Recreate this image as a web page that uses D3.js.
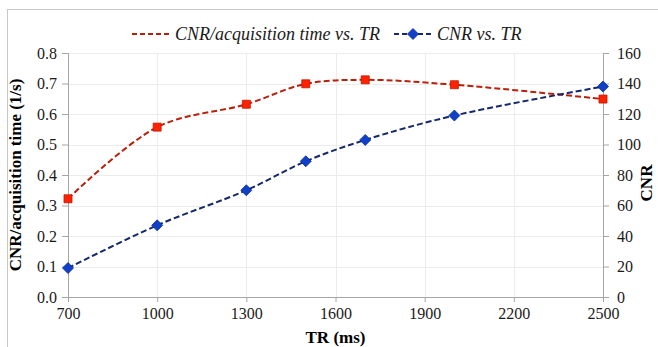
<!DOCTYPE html>
<html>
<head>
<meta charset="utf-8">
<script src="https://cdn.jsdelivr.net/npm/d3@7"></script>
<style>
  body { margin: 0; background: #fff; }
  svg, svg text { font-family: 'Liberation Serif', 'Times New Roman', Times, 'DejaVu Serif', serif !important; }
</style>
</head>
<body>
<div id="chart"></div>
<script>
// values
const trValues = [700, 1000, 1300, 1500, 1700, 2000, 2500];
const cnrPerTime = [0.322, 0.557, 0.632, 0.699, 0.712, 0.696, 0.649];
const cnrValues = [19, 47, 70, 89, 103, 119, 138];
const xTicks = [700, 1000, 1300, 1600, 1900, 2200, 2500];
const leftTicks = [0, 0.1, 0.2, 0.3, 0.4, 0.5, 0.6, 0.7, 0.8];
const rightTicks = [0, 20, 40, 60, 80, 100, 120, 140, 160];

const W = 658, H = 347;
const margin = { top: 53, right: 55, bottom: 50, left: 68 };
const innerW = W - margin.left - margin.right;
const innerH = H - margin.top - margin.bottom;
const SERIF = "'Liberation Serif', 'Times New Roman', Times, serif";

const svg = d3.select('#chart')
	.append('svg')
	.attr('width', W)
	.attr('height', H);

// chart frame
svg.append('rect')
	.attr('x', 7.5).attr('y', 9.5)
	.attr('width', W).attr('height', H)
	.attr('fill', 'none')
	.attr('stroke', '#c8c8c8');

const g = svg.append('g').attr('transform', `translate(${margin.left},${margin.top})`);

const x = d3.scaleLinear().domain([700, 2500]).range([0, innerW]);
const yL = d3.scaleLinear().domain([0, 0.8]).range([innerH, 0]);
const yR = d3.scaleLinear().domain([0, 160]).range([innerH, 0]);

// grid
g.append('g').selectAll('line.h')
	.data(leftTicks.slice(1))
	.join('line')
	.attr('x1', 0).attr('x2', innerW)
	.attr('y1', d => Math.round(yL(d)) + 0.5).attr('y2', d => Math.round(yL(d)) + 0.5)
	.attr('stroke', '#ececec');
g.append('g').selectAll('line.v')
	.data(xTicks.slice(1, -1))
	.join('line')
	.attr('y1', 0).attr('y2', innerH)
	.attr('x1', d => Math.round(x(d)) + 0.5).attr('x2', d => Math.round(x(d)) + 0.5)
	.attr('stroke', '#ececec');

const styleAxis = sel => {
	sel.attr('font-family', SERIF).attr('font-size', 16);
	sel.select('.domain').attr('stroke', '#a6a6a6');
	sel.selectAll('.tick line').attr('stroke', '#a6a6a6');
	sel.selectAll('.tick text')
		.attr('fill', '#1a1a1a')
		.style('font-family', SERIF, 'important')
		.style('font-size', '16px');
};

g.append('g')
	.attr('transform', `translate(0,${innerH})`)
	.call(d3.axisBottom(x).tickValues(xTicks).tickFormat(d3.format('d')).tickSizeOuter(0).tickSize(5).tickPadding(6))
	.call(styleAxis);

g.append('g')
	.call(d3.axisLeft(yL).tickValues(leftTicks).tickFormat(d3.format('.1f')).tickSizeOuter(0).tickSize(6).tickPadding(5))
	.call(styleAxis);

g.append('g')
	.attr('transform', `translate(${innerW},0)`)
	.call(d3.axisRight(yR).tickValues(rightTicks).tickFormat(d3.format('d')).tickSizeOuter(0).tickSize(6).tickPadding(8))
	.call(styleAxis);

// axis titles
svg.append('text')
	.attr('x', margin.left + innerW / 2).attr('y', 343)
	.attr('text-anchor', 'middle')
	.style('font-size', '17px').style('font-weight', 'bold')
	.text('TR (ms)');
svg.append('text')
	.attr('transform', `translate(21,${margin.top + innerH / 2}) rotate(-90)`)
	.attr('text-anchor', 'middle')
	.style('font-size', '17px').style('font-weight', 'bold')
	.text('CNR/acquisition time (1/s)');
svg.append('text')
	.attr('transform', `translate(652,${margin.top + innerH / 2 + 8}) rotate(-90)`)
	.attr('text-anchor', 'middle')
	.style('font-size', '17px').style('font-weight', 'bold')
	.text('CNR');

// series
const redLine = '#b8200c', redFill = '#ff2200';
const blueLine = '#16276b', blueFill = '#1040c8';

const lineRed = d3.line()
	.x((d, i) => x(trValues[i]))
	.y(d => yL(d))
	.curve(d3.curveCatmullRom.alpha(0.5));
const lineBlue = d3.line()
	.x((d, i) => x(trValues[i]))
	.y(d => yR(d))
	.curve(d3.curveCatmullRom.alpha(0.5));

g.append('path')
	.datum(cnrPerTime)
	.attr('d', lineRed)
	.attr('fill', 'none')
	.attr('stroke', redLine)
	.attr('stroke-width', 2)
	.attr('stroke-dasharray', '6,3');

g.append('path')
	.datum(cnrValues)
	.attr('d', lineBlue)
	.attr('fill', 'none')
	.attr('stroke', blueLine)
	.attr('stroke-width', 2)
	.attr('stroke-dasharray', '6,3');

const sq = d3.symbol().type(d3.symbolSquare).size(64);
// square turned 45 degrees, like the Excel diamond marker
const dia = 'M0,-5.5L5.5,0L0,5.5L-5.5,0Z';

g.append('g').selectAll('path')
	.data(cnrPerTime)
	.join('path')
	.attr('d', sq)
	.attr('transform', (d, i) => `translate(${x(trValues[i])},${yL(d)})`)
	.attr('fill', redFill)
	.attr('stroke', '#c01800')
	.attr('stroke-width', 0.8);

g.append('g').selectAll('path')
	.data(cnrValues)
	.join('path')
	.attr('d', dia)
	.attr('transform', (d, i) => `translate(${x(trValues[i])},${yR(d)})`)
	.attr('fill', blueFill)
	.attr('stroke', '#0a2a90')
	.attr('stroke-width', 0.8);

// legend
const legendItems = [
	{ label: 'CNR/acquisition time vs. TR', line: redLine, fill: redFill, stroke: '#c01800', sym: sq, x: 132 },
	{ label: 'CNR vs. TR', line: blueLine, fill: blueFill, stroke: '#0a2a90', sym: dia, x: 394 }
];
const lg = svg.append('g').selectAll('g')
	.data(legendItems)
	.join('g')
	.attr('transform', d => `translate(${d.x},34)`);
lg.append('line')
	.attr('x1', 0).attr('x2', 38)
	.attr('stroke', d => d.line)
	.attr('stroke-width', 2)
	.attr('stroke-dasharray', '5,3');
lg.append('path')
	.attr('d', d => d.sym)
	.attr('transform', 'translate(19,0)')
	.attr('fill', d => d.fill)
	.attr('stroke', d => d.stroke)
	.attr('stroke-width', 0.8);
lg.append('text')
	.attr('x', 43).attr('y', 6)
	.style('font-size', '18px').style('font-style', 'italic')
	.attr('fill', '#1a1a1a')
	.text(d => d.label);
</script>
</body>
</html>
